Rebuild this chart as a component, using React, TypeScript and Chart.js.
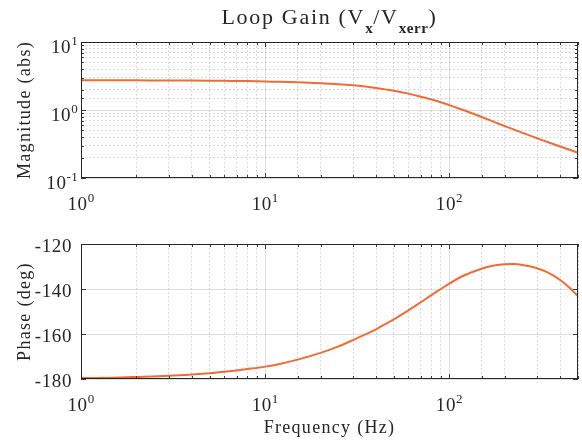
import React, { useEffect, useRef } from 'react';
import { Chart, registerables } from 'chart.js';

Chart.register(...registerables);

// ---- data ----
const freqHz = [1, 1.5, 2, 3, 4, 5, 6, 7, 8, 10, 12, 15, 20, 25, 30, 35, 40, 45, 50, 60, 70, 80, 90, 100, 120, 150, 175, 200, 225, 250, 300, 350, 400, 450, 500];
const magnitudeAbs = [2.74, 2.74, 2.73, 2.72, 2.71, 2.7, 2.69, 2.67, 2.66, 2.62, 2.6, 2.55, 2.47, 2.4, 2.31, 2.21, 2.11, 2.01, 1.92, 1.74, 1.57, 1.43, 1.3, 1.18, 0.99, 0.79, 0.67, 0.58, 0.515, 0.46, 0.385, 0.33, 0.29, 0.26, 0.235];
const phaseDeg = [-179.6, -179.4, -179.1, -178.6, -178.0, -177.4, -176.8, -176.2, -175.6, -174.5, -173.3, -171.4, -168.4, -165.5, -162.7, -160.2, -157.9, -155.6, -153.5, -149.5, -145.9, -142.7, -140.0, -137.6, -134.0, -131.0, -129.6, -129.0, -128.9, -129.3, -130.8, -133.1, -136.0, -139.4, -143.3];

const freqTickExps = [0, 1, 2];
const magTickExps = [-1, 0, 1];
const phaseTicks = [-180, -160, -140, -120];

const titleMain = 'Loop Gain (V';
const titleSub1 = 'x';
const titleMid = '/V';
const titleSub2 = 'xerr';
const titleEnd = ')';
const magLabel = 'Magnitude (abs)';
const phaseLabel = 'Phase (deg)';
const freqLabel = 'Frequency (Hz)';

// ---- style ----
const FONT = '"Liberation Serif", "Times New Roman", serif';
const TEXT = '#262626';
const LINE = '#F26B35';
const MAJOR_GRID = 'rgba(38,38,38,0.15)';
const MINOR_GRID = 'rgba(38,38,38,0.17)';
const W = 582;
const TOP_H = 215;
const BOT_H = 442 - TOP_H;

const isDecade = (v: number) => Math.abs(Math.log10(v) - Math.round(Math.log10(v))) < 1e-6;

function setFont(ctx: CanvasRenderingContext2D, size: number, weight = 'normal', spacing = 0) {
  ctx.font = `${weight} ${size}px ${FONT}`;
  (ctx as any).letterSpacing = `${spacing}px`;
}

function drawPow(ctx: CanvasRenderingContext2D, exp: number, x: number, baseline: number, align: 'center' | 'right') {
  const base = '10';
  const e = String(exp);
  setFont(ctx, 19, 'normal', 0.6);
  const wb = ctx.measureText(base).width;
  setFont(ctx, 13, 'normal', 0.3);
  const we = ctx.measureText(e).width;
  const total = wb + we;
  const start = align === 'center' ? x - total / 2 : x - total;
  ctx.textAlign = 'left';
  ctx.textBaseline = 'alphabetic';
  ctx.fillStyle = TEXT;
  setFont(ctx, 19, 'normal', 0.6);
  ctx.fillText(base, start, baseline);
  setFont(ctx, 13, 'normal', 0.3);
  ctx.fillText(e, start + wb, baseline - 8);
}

function drawBoxAndTicks(chart: any) {
  const ctx: CanvasRenderingContext2D = chart.ctx;
  const { left, right, top, bottom } = chart.chartArea;
  const xs = chart.scales.x;
  const ys = chart.scales.y;
  ctx.save();
  ctx.strokeStyle = '#3a3a3a';
  ctx.lineWidth = 1;
  ctx.beginPath();
  for (const t of xs.ticks) {
    const v = t.value;
    const px = Math.round(xs.getPixelForValue(v)) + 0.5;
    const len = isDecade(v) ? 5 : 3;
    ctx.moveTo(px, bottom);
    ctx.lineTo(px, bottom - len);
    ctx.moveTo(px, top);
    ctx.lineTo(px, top + len);
  }
  for (const t of ys.ticks) {
    const v = t.value;
    const py = Math.round(ys.getPixelForValue(v)) + 0.5;
    const major = ys.type === 'logarithmic' ? isDecade(v) : true;
    const len = major ? 5 : 3;
    ctx.moveTo(left, py);
    ctx.lineTo(left + len, py);
    ctx.moveTo(right, py);
    ctx.lineTo(right - len, py);
  }
  ctx.stroke();
  ctx.strokeStyle = '#262626';
  ctx.strokeRect(Math.round(left) + 0.5, Math.round(top) + 0.5, Math.round(right - left) - 1, Math.round(bottom - top) - 1);
  ctx.restore();
}

const logGrid = {
  drawTicks: false,
  color: (c: any) => (c.tick && isDecade(c.tick.value) ? MAJOR_GRID : MINOR_GRID),
  lineWidth: 1,
};
const logBorder = {
  display: false,
  dash: (c: any) => (c.tick && !isDecade(c.tick.value) ? [2, 2] : []),
};

function fixSize(scale: any) {
  if (scale.isHorizontal()) scale.height = 0;
  else scale.width = 0;
}

function drawRotated(ctx: CanvasRenderingContext2D, text: string, x: number, y: number) {
  ctx.save();
  ctx.translate(x, y);
  ctx.rotate(-Math.PI / 2);
  setFont(ctx, 18, 'normal', 1.3);
  ctx.fillStyle = TEXT;
  ctx.textAlign = 'center';
  ctx.textBaseline = 'alphabetic';
  ctx.fillText(text, 0, 0);
  ctx.restore();
}

export default function App() {
  const topRef = useRef<HTMLCanvasElement>(null);
  const botRef = useRef<HTMLCanvasElement>(null);

  useEffect(() => {
    const topPlugin = {
      id: 'topDecor',
      afterDraw(chart: any) {
        const ctx: CanvasRenderingContext2D = chart.ctx;
        drawBoxAndTicks(chart);
        const xs = chart.scales.x;
        const ys = chart.scales.y;
        const { left, right, top, bottom } = chart.chartArea;
        ctx.save();
        for (const e of freqTickExps) drawPow(ctx, e, xs.getPixelForValue(Math.pow(10, e)), bottom + 32, 'center');
        for (const e of magTickExps) drawPow(ctx, e, left - 3, ys.getPixelForValue(Math.pow(10, e)) + 10.5, 'right');
        drawRotated(ctx, magLabel, 30, (top + bottom) / 2);
        // title
        const mainSize = 22, subSize = 15, mainSp = 1.7, subSp = 0.6;
        setFont(ctx, mainSize, 'normal', mainSp);
        const w1 = ctx.measureText(titleMain).width;
        const w3 = ctx.measureText(titleMid).width;
        const w5 = ctx.measureText(titleEnd).width;
        setFont(ctx, subSize, 'bold', subSp);
        const w2 = ctx.measureText(titleSub1).width;
        const w4 = ctx.measureText(titleSub2).width;
        const total = w1 + w2 + w3 + w4 + w5;
        let x = (left + right) / 2 - total / 2;
        const base = 24;
        ctx.fillStyle = TEXT;
        ctx.textAlign = 'left';
        ctx.textBaseline = 'alphabetic';
        setFont(ctx, mainSize, 'normal', mainSp);
        ctx.fillText(titleMain, x, base); x += w1;
        setFont(ctx, subSize, 'bold', subSp);
        ctx.fillText(titleSub1, x, base + 9); x += w2;
        setFont(ctx, mainSize, 'normal', mainSp);
        ctx.fillText(titleMid, x, base); x += w3;
        setFont(ctx, subSize, 'bold', subSp);
        ctx.fillText(titleSub2, x, base + 9); x += w4;
        setFont(ctx, mainSize, 'normal', mainSp);
        ctx.fillText(titleEnd, x, base);
        ctx.restore();
      },
    };

    const botPlugin = {
      id: 'botDecor',
      afterDraw(chart: any) {
        const ctx: CanvasRenderingContext2D = chart.ctx;
        drawBoxAndTicks(chart);
        const xs = chart.scales.x;
        const ys = chart.scales.y;
        const { left, right, top, bottom } = chart.chartArea;
        ctx.save();
        for (const e of freqTickExps) drawPow(ctx, e, xs.getPixelForValue(Math.pow(10, e)), bottom + 32, 'center');
        setFont(ctx, 19, 'normal', 0.6);
        ctx.fillStyle = TEXT;
        ctx.textAlign = 'right';
        ctx.textBaseline = 'alphabetic';
        for (const v of phaseTicks) ctx.fillText(String(v), left - 9, ys.getPixelForValue(v) + 7.5);
        drawRotated(ctx, phaseLabel, 30, (top + bottom) / 2);
        setFont(ctx, 18, 'normal', 1.3);
        ctx.fillStyle = TEXT;
        ctx.textAlign = 'center';
        ctx.fillText(freqLabel, (left + right) / 2, bottom + 54);
        ctx.restore();
      },
    };

    const lineDs = (ys: number[]) => ({
      data: freqHz.map((f, i) => ({ x: f, y: ys[i] })),
      borderColor: LINE,
      borderWidth: 2,
      pointRadius: 0,
      cubicInterpolationMode: 'monotone',
      fill: false,
    });

    const topChart = new Chart(topRef.current!, {
      type: 'line',
      data: { datasets: [lineDs(magnitudeAbs)] },
      options: {
        responsive: false,
        animation: false,
        layout: { padding: { left: 81, right: W - 578, top: 42, bottom: TOP_H - 178 } },
        plugins: { legend: { display: false }, tooltip: { enabled: false }, title: { display: false } },
        scales: {
          x: { type: 'logarithmic', min: 1, max: 500, ticks: { display: false, autoSkip: false }, grid: logGrid, border: logBorder, afterFit: fixSize },
          y: { type: 'logarithmic', min: 0.1, max: 10, ticks: { display: false, autoSkip: false }, grid: logGrid, border: logBorder, afterFit: fixSize },
        },
      } as any,
      plugins: [topPlugin],
    });

    const botChart = new Chart(botRef.current!, {
      type: 'line',
      data: { datasets: [lineDs(phaseDeg)] },
      options: {
        responsive: false,
        animation: false,
        layout: { padding: { left: 81, right: W - 578, top: 244 - TOP_H, bottom: 442 - 379 } },
        plugins: { legend: { display: false }, tooltip: { enabled: false }, title: { display: false } },
        scales: {
          x: { type: 'logarithmic', min: 1, max: 500, ticks: { display: false, autoSkip: false }, grid: logGrid, border: logBorder, afterFit: fixSize },
          y: { type: 'linear', min: -180, max: -120, ticks: { display: false, stepSize: 20, autoSkip: false }, grid: { drawTicks: false, color: MAJOR_GRID, lineWidth: 1 }, border: { display: false }, afterFit: fixSize },
        },
      } as any,
      plugins: [botPlugin],
    });

    return () => {
      topChart.destroy();
      botChart.destroy();
    };
  }, []);

  return (
    <div style={{ position: 'fixed', left: 0, top: 0, width: W, height: 442, background: '#fff' }}>
      <canvas ref={topRef} width={W} height={TOP_H} style={{ position: 'absolute', left: 0, top: 0, width: W, height: TOP_H }} />
      <canvas ref={botRef} width={W} height={BOT_H} style={{ position: 'absolute', left: 0, top: TOP_H, width: W, height: BOT_H }} />
    </div>
  );
}
